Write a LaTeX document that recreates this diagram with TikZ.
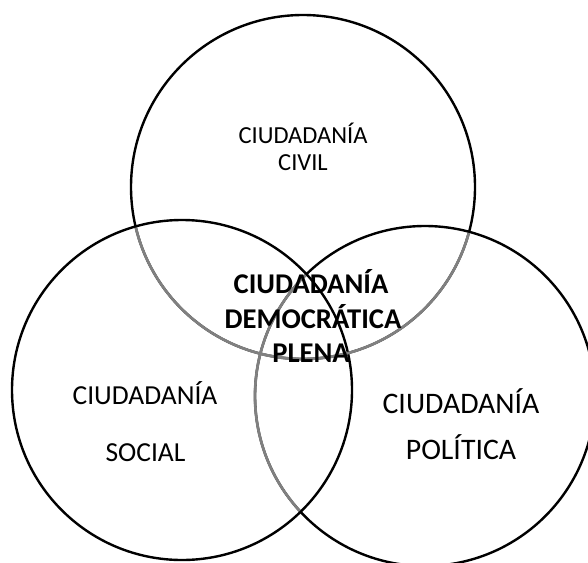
\documentclass[tikz,border=0pt]{standalone}
\usepackage{fontspec}
\setmainfont{Carlito}
\begin{document}
\begin{tikzpicture}[x=1pt,y=-1pt,
  ring/.style={circle,draw=black,line width=2.4pt,inner sep=0pt},
  greyring/.style={draw=black!50,line width=2.7pt},
  civtxt/.style={anchor=base,inner sep=0pt,font=\fontsize{24.5}{27}\selectfont},
  soctxt/.style={anchor=base,inner sep=0pt,font=\fontsize{27.5}{30}\selectfont},
  poltxt/.style={anchor=base,inner sep=0pt,font=\fontsize{29.8}{32}\selectfont},
  midtxt/.style={anchor=base,inner sep=0pt,font=\fontsize{28.6}{31}\selectfont\bfseries}]
\useasboundingbox (0,0) rectangle (588,562);
\begin{scope}
\clip (0,0) rectangle (588,562);
% circles
\node[ring,minimum size=344pt] (civ) at (303,187) {};
\node[ring,minimum size=340pt] (pol) at (425,396) {};
\node[ring,minimum size=340pt] (soc) at (182,390) {};
% grey parts of the upper circle inside the lower circles
\begin{scope}
\clip (soc.center) circle (168.8pt);
\draw[greyring] (civ.center) circle (172pt);
\end{scope}
\begin{scope}
\clip (pol.center) circle (168.8pt);
\draw[greyring] (civ.center) circle (172pt);
\end{scope}
% grey part of the right circle inside the left circle
\begin{scope}
\clip (soc.center) circle (168.8pt);
\draw[greyring] (pol.center) circle (170pt);
\end{scope}
\end{scope}
% texts
\node[civtxt] (civ1) at (303,143) {CIUDADANÍA};
\node[civtxt] (civ2) at (303,170) {CIVIL};
\node[soctxt] (soc1) at (145,404) {CIUDADANÍA};
\begin{scope}
\clip (60,420) rectangle (230,461.5);
\node[soctxt] (soc2) at (145.5,461.5) {SOCIAL};
\end{scope}
\node[poltxt] (pol1) at (461,413) {CIUDADANÍA};
\node[poltxt] (pol2) at (461,459) {POLÍTICA};
\node[midtxt] (mid1) at (311,293) {CIUDADANÍA};
\node[midtxt] (mid2) at (313,328) {DEMOCRÁTICA};
\node[midtxt] (mid3) at (311,362) {PLENA};
\end{tikzpicture}
\end{document}
